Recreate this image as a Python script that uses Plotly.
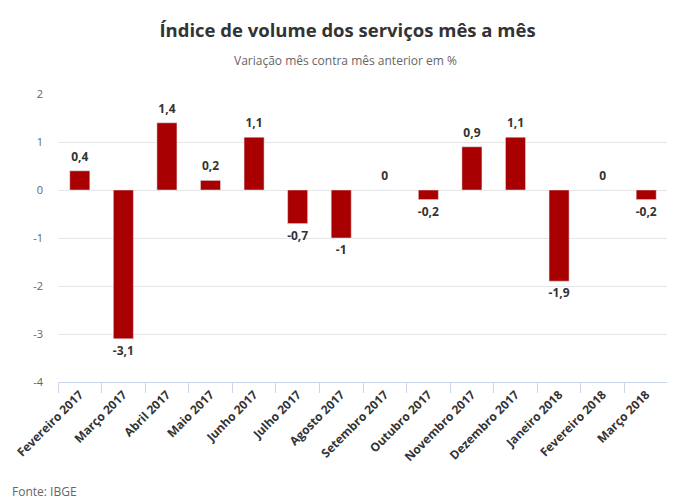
import plotly.graph_objects as go

meses = ["Fevereiro 2017", "Março 2017", "Abril 2017", "Maio 2017", "Junho 2017",
         "Julho 2017", "Agosto 2017", "Setembro 2017", "Outubro 2017",
         "Novembro 2017", "Dezembro 2017", "Janeiro 2018", "Fevereiro 2018", "Março 2018"]
variacao = [0.4, -3.1, 1.4, 0.2, 1.1, -0.7, -1, 0, -0.2, 0.9, 1.1, -1.9, 0, -0.2]
y_ticks = [2, 1, 0, -1, -2, -3, -4]

rotulos = [("%g" % v).replace(".", ",") for v in variacao]
posicoes = ["bottom center" if v < 0 else "top center" for v in variacao]

fig = go.Figure()
fig.add_trace(go.Bar(x=meses, y=variacao, marker_color="#a80000", width=0.46,
                     hoverinfo="skip"))
# marcador invisivel so para afastar o rotulo da barra
fig.add_trace(go.Scatter(x=meses, y=variacao, mode="markers+text", text=rotulos,
                         textposition=posicoes, cliponaxis=False,
                         marker=dict(size=10, opacity=0),
                         textfont=dict(family="Open Sans", size=12, color="#333333", weight="bold"),
                         hoverinfo="skip"))

# a pagina tem 8px de margem no body, entao o grafico fica 8px menor
fig.update_layout(
    width=667, height=493,
    margin=dict(l=50, r=7, t=86, b=119),
    paper_bgcolor="white", plot_bgcolor="white",
    showlegend=False,
    font=dict(family="Open Sans", color="#333333"),
    title=dict(text="<b>Índice de volume dos serviços mês a mês</b>",
               x=0.509, xanchor="center", y=0.955, yanchor="middle",
               font=dict(size=18.5, color="#333333")),
    annotations=[
        dict(text="Variação mês contra mês anterior em %", xref="paper", yref="paper",
             x=0.472, y=1.0, yshift=34, xanchor="center", yanchor="middle",
             showarrow=False, font=dict(size=12, color="#666666")),
        dict(text="Fonte: IBGE", xref="paper", yref="paper", x=-48 / 610, y=0,
             yshift=-109, xanchor="left", yanchor="middle", showarrow=False,
             font=dict(size=12, color="#666666")),
    ],
)
fig.update_xaxes(range=[-0.5, len(meses) - 0.5], tickangle=-45, tickson="boundaries",
                 ticks="outside", ticklen=10,
                 tickcolor="#ccd6eb", showline=True, linecolor="#ccd6eb",
                 tickfont=dict(size=12, color="#333333", weight="bold"),
                 showgrid=False, automargin=False)
fig.update_yaxes(range=[-4, 2], tickvals=y_ticks, ticktext=[str(t) for t in y_ticks],
                 gridcolor="#e6e6e6", zeroline=False, ticks="",
                 tickfont=dict(size=11, color="#666666"), ticklabelstandoff=14,
                 automargin=False)

fig.write_html("out.html")
